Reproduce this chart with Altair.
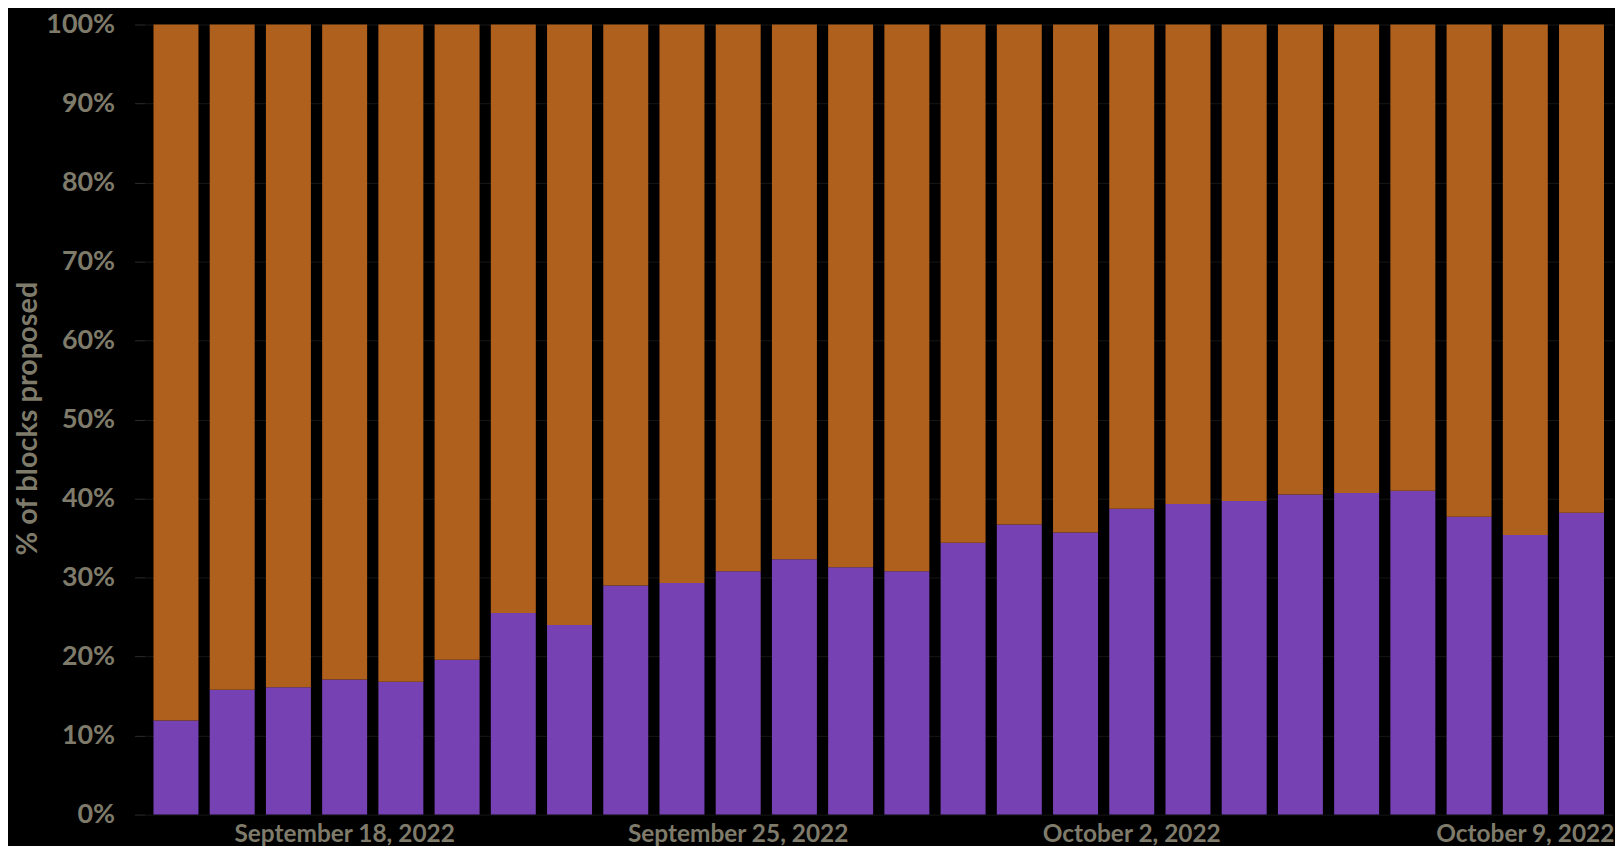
import altair as alt
import pandas as pd

dates = [
    "September 15, 2022", "September 16, 2022", "September 17, 2022", "September 18, 2022",
    "September 19, 2022", "September 20, 2022", "September 21, 2022", "September 22, 2022",
    "September 23, 2022", "September 24, 2022", "September 25, 2022", "September 26, 2022",
    "September 27, 2022", "September 28, 2022", "September 29, 2022", "September 30, 2022",
    "October 1, 2022", "October 2, 2022", "October 3, 2022", "October 4, 2022",
    "October 5, 2022", "October 6, 2022", "October 7, 2022", "October 8, 2022",
    "October 9, 2022", "October 10, 2022",
]
purple_share = [11.9, 15.8, 16.1, 17.1, 16.8, 19.6, 25.5, 24.0, 29.0, 29.3, 30.8, 32.3, 31.3,
                30.8, 34.4, 36.7, 35.7, 38.7, 39.3, 39.7, 40.5, 40.7, 41.0, 37.7, 35.4, 38.2]
orange_share = [round(100 - v, 1) for v in purple_share]
tick_dates = ["September 18, 2022", "September 25, 2022", "October 2, 2022", "October 9, 2022"]
series_names = ["Group A", "Group B"]
series_colors = ["#7641B3", "#B0601D"]

rows = []
for d, p, o in zip(dates, purple_share, orange_share):
    rows.append({"date": d, "series": series_names[0], "share": p / 100, "order": 0})
    rows.append({"date": d, "series": series_names[1], "share": o / 100, "order": 1})
df = pd.DataFrame(rows)

label_color = "#7f7b6b"
font = "Lato"

chart = alt.Chart(df).mark_bar().encode(
    x=alt.X("date:N", sort=dates,
            scale=alt.Scale(paddingInner=0.2, paddingOuter=0.16),
            axis=alt.Axis(values=tick_dates, title=None, ticks=False, domain=False,
                          labelAngle=0, labelFont=font, labelFontSize=24.5, labelFontWeight="bold",
                          labelColor=label_color, labelPadding=8, labelLimit=0, grid=False)),
    y=alt.Y("share:Q", stack="zero",
            scale=alt.Scale(domain=[0, 1], nice=False),
            axis=alt.Axis(format=".0%", values=[i / 10 for i in range(11)],
                          title="% of blocks proposed", titleFont=font, titleFontSize=29,
                          titleFontWeight="bold", titleColor=label_color,
                          titleAngle=270, titleX=-117, titleY=395, titleAlign="center",
                          titleBaseline="middle",
                          labelFont=font, labelFontSize=27, labelFontWeight="bold",
                          labelColor=label_color, labelPadding=20,
                          tickSize=10, tickColor="#2c2c2c", domain=False,
                          grid=True, gridColor="#161616", gridWidth=1)),
    color=alt.Color("series:N", scale=alt.Scale(domain=series_names, range=series_colors), legend=None),
    order=alt.Order("order:Q"),
).properties(
    width=1474,
    height=793,
    background="black",
    padding={"left": 137, "top": 15, "right": 2, "bottom": 30},
    autosize=alt.AutoSizeParams(type="none"),
).configure_view(stroke=None)

chart.save("out.html", embed_options={"renderer": "svg", "actions": False})
